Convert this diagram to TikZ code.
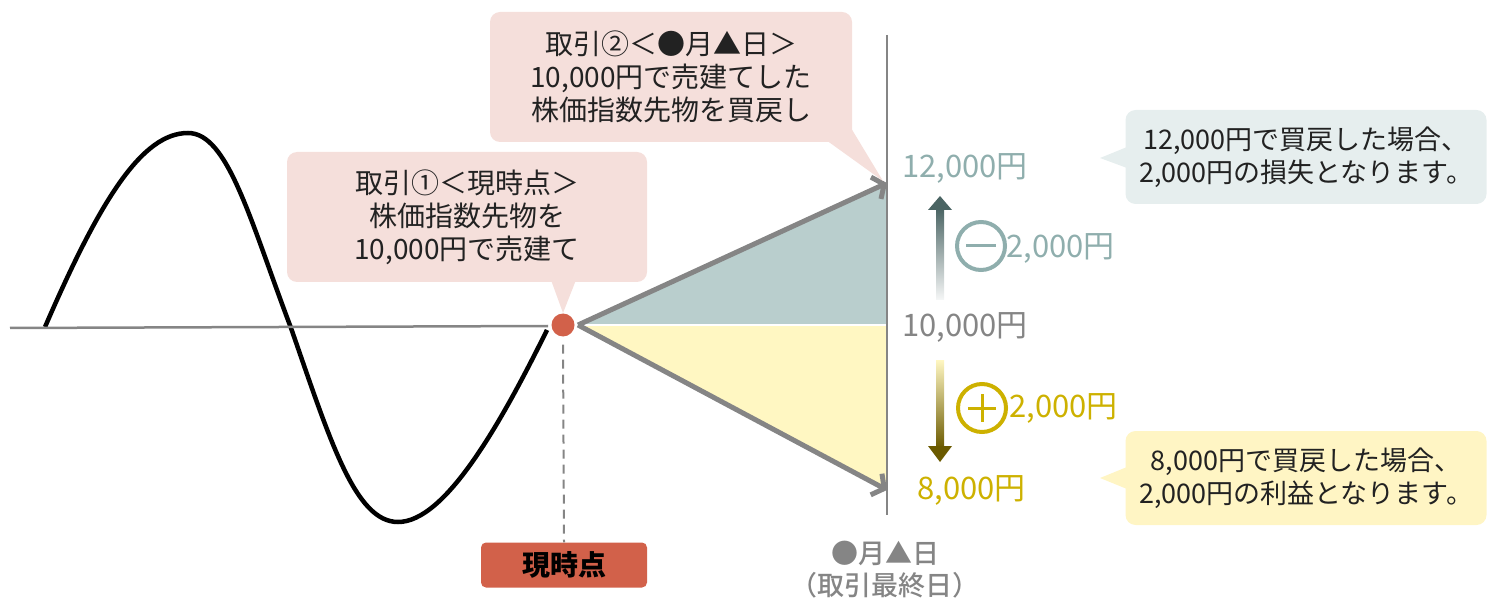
\documentclass[tikz,border=0pt]{standalone}
\usepackage{fontspec}
\setmainfont{Noto Sans CJK JP}
\newfontfamily\jpmed{Noto Sans CJK JP Medium}
\usetikzlibrary{arrows.meta,calc}
\definecolor{pinkbg}{HTML}{F5DFDB}
\definecolor{bluebg}{HTML}{E6EEEE}
\definecolor{yellowbg}{HTML}{FFF5C4}
\definecolor{bluefill}{HTML}{B9CECD}
\definecolor{yellowfill}{HTML}{FFF7C2}
\definecolor{redc}{HTML}{D2614A}
\definecolor{greyc}{HTML}{858585}
\definecolor{tealc}{HTML}{8FAEAD}
\definecolor{tealdark}{HTML}{4A6463}
\definecolor{goldc}{HTML}{CDB100}
\definecolor{golddark}{HTML}{6B5A00}
\definecolor{txt}{HTML}{222222}
\tikzset{
  callout/.style={rounded corners=10pt, inner sep=0pt, align=center, text=txt,
    font=\fontsize{28}{33}\selectfont},
  pricelabel/.style={anchor=west, inner sep=0pt, font=\fontsize{31}{31}\selectfont},
  garrow/.style={draw=greyc, line width=5pt, -{Straight Barb[length=9pt,width=24pt]}},
  sign/.style={circle, draw, line width=4pt, minimum size=48pt, inner sep=0pt},
}
\begin{document}
\begin{tikzpicture}[x=1pt,y=-1pt]
\useasboundingbox (0,0) rectangle (1490,601);

% axis and price curve
\coordinate (axL) at (10,328);
\coordinate (axR) at (548,326);
\draw[black, line width=4.5pt]
  (45,327) .. controls (100,200) and (142,133) .. (188,133)
  .. controls (228,133) and (250,220) .. (291,328)
  .. controls (330,440) and (355,522) .. (398,522)
  .. controls (445,522) and (500,425) .. (547,330);
\draw[greyc, line width=2.5pt] (axL) -- (axR);

% fills
\coordinate (o) at (578,325);
\coordinate (p12) at (887,183);
\coordinate (p10) at (887,325);
\coordinate (p8) at (887,490);
\fill[bluefill] (o) -- (p12) -- (p10) -- cycle;
\fill[yellowfill] (o) -- (p10) -- (p8) -- cycle;
\draw[white, line width=2pt] (o) -- (p10);

% vertical axis
\coordinate (vt) at (887,35);
\coordinate (vb) at (887,515);
\draw[greyc, line width=2pt] (vt) -- (vb);

% now dot and dashed line
\node[circle, fill=redc, minimum size=23pt, inner sep=0pt] (now) at (563,325) {};
\node[rounded corners=5pt, fill=redc, minimum width=166pt, minimum height=45pt, inner sep=0pt,
  font=\fontsize{28}{28}\selectfont\bfseries] (nowbox) at (564,565) {現時点};
\draw[greyc, line width=2pt, dash pattern=on 9pt off 6pt] (now.south) ++(0,8) -- (nowbox.north);

% arrows
\draw[garrow] (o) -- (p12);
\draw[garrow] (o) -- (p8);

% callout 1
\node[callout, fill=pinkbg, minimum width=360pt, minimum height=130pt] (c1) at (467,217)
  {取引①＜現時点＞\\株価指数先物を\\10,000円で売建て};
\fill[pinkbg] (551,280) -- (563,313) -- (576,280) -- cycle;

% callout 2
\node[callout, fill=pinkbg, minimum width=362pt, minimum height=130pt] (c2) at (671,77)
  {取引②＜●月▲日＞\\10,000円で売建てした\\株価指数先物を買戻し};
\fill[pinkbg] (826,140) -- (883,181) -- (851,128) -- cycle;

% price labels
\node[pricelabel, text=tealc] (l12) at (902,168) {12,000円};
\node[pricelabel, text=greyc] (l10) at (902,327) {10,000円};
\node[pricelabel, text=goldc] (l8) at (917,490) {8,000円};

% gradient arrows
\shade[top color=tealdark, bottom color=tealdark!5] (936,208) rectangle (944,300);
\fill[tealdark] (928,210) -- (940,196) -- (952,210) -- cycle;
\shade[top color=yellowfill, bottom color=golddark] (936,360) rectangle (944,448);
\fill[golddark] (928,446) -- (940,462) -- (952,446) -- cycle;

% minus / plus
\node[sign, draw=tealc] (minus) at (981,246) {};
\draw[tealc, line width=3pt] ($(minus.center)+(-15,0)$) -- ($(minus.center)+(15,0)$);
\node[pricelabel, text=tealc] (m2) at (1006,248) {2,000円};
\node[sign, draw=goldc] (plus) at (982,408) {};
\draw[goldc, line width=3pt] ($(plus.center)+(-14,0)$) -- ($(plus.center)+(14,0)$);
\draw[goldc, line width=3pt] ($(plus.center)+(0,-14)$) -- ($(plus.center)+(0,14)$);
\node[pricelabel, text=goldc] (p2) at (1009,408) {2,000円};

% right callouts
\node[callout, fill=bluebg, minimum width=361pt, minimum height=94pt, font=\fontsize{27}{33}\selectfont] (r1) at (1306,157)
  {12,000円で買戻した場合、\\2,000円の損失となります。};
\fill[bluebg] (1127,147) -- (1100,158) -- (1127,168) -- cycle;
\node[callout, fill=yellowbg, minimum width=361pt, minimum height=94pt, font=\fontsize{27}{33}\selectfont] (r2) at (1306,478)
  {8,000円で買戻した場合、\\2,000円の利益となります。};
\fill[yellowbg] (1127,467) -- (1100,478) -- (1127,489) -- cycle;

% bottom date label
\node[inner sep=0pt, align=center, text=greyc, font=\fontsize{27}{32}\selectfont\jpmed] (date) at (885,570)
  {●月▲日\\（取引最終日）};
\end{tikzpicture}
\end{document}
